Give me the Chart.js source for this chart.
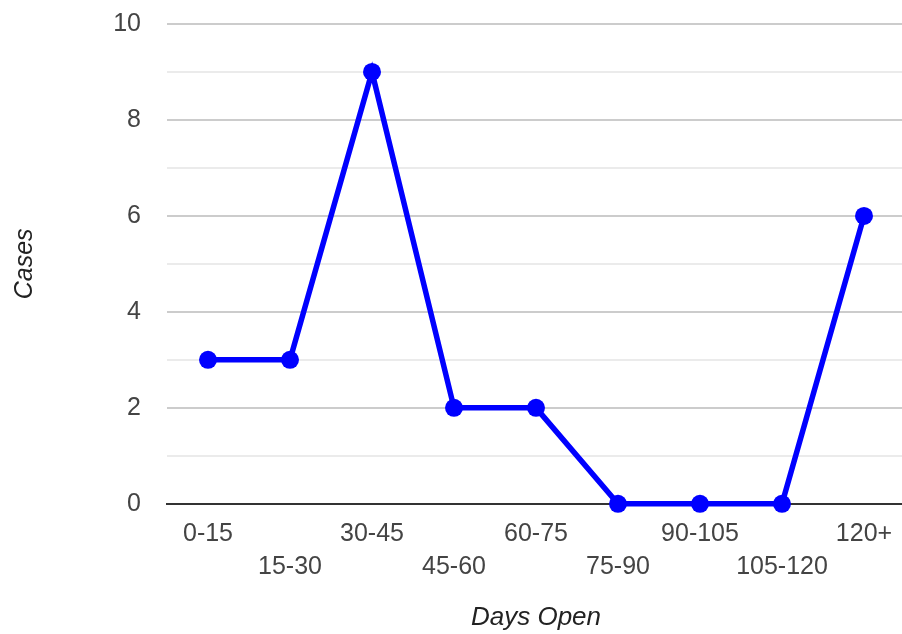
<!DOCTYPE html>
<html>
<head>
<meta charset="utf-8">
<script src="https://cdn.jsdelivr.net/npm/chart.js@4"></script>
<style>
  html, body { margin: 0; padding: 0; background: #fff; overflow: hidden; }
  #wrap { width: 914px; height: 634px; }
</style>
</head>
<body>
<div id="wrap"><canvas id="c" width="914" height="634"></canvas></div>
<script>
// Case counts grouped by how many days a case has been open
const categories = ['0-15', '15-30', '30-45', '45-60', '60-75', '75-90', '90-105', '105-120', '120+'];
const cases = [3, 3, 9, 2, 2, 0, 0, 0, 6];
const yTicks = [0, 2, 4, 6, 8, 10];

const FONT = '"Liberation Sans", Arial, sans-serif';

new Chart(document.getElementById('c'), {
  type: 'line',
  data: {
    labels: categories,
    datasets: [{
      data: cases,
      borderColor: '#0000ff',
      backgroundColor: '#0000ff',
      borderWidth: 5.5,
      pointRadius: 9,
      pointHoverRadius: 9,
      pointBorderWidth: 0,
      tension: 0,
      clip: false
    }]
  },
  options: {
    responsive: false,
    animation: false,
    events: [],
    layout: { padding: { top: 24, right: 0, bottom: 1, left: 10 } },
    plugins: { legend: { display: false }, tooltip: { enabled: false } },
    scales: {
      x: {
        offset: true,
        grid: { display: false, drawTicks: false },
        border: { display: true, color: '#333', width: 2 },
        ticks: {
          maxRotation: 0,
          autoSkip: false,
          padding: 14,
          color: '#444',
          font: { family: FONT, size: 25, lineHeight: 1.32 },
          callback: function (v, i) {
            const t = categories[i];
            return i % 2 === 0 ? [t, ''] : ['', t];
          }
        },
        title: {
          display: true,
          text: 'Days Open',
          color: '#222',
          font: { family: FONT, size: 26, style: 'italic' },
          padding: { top: 4, bottom: 0 }
        }
      },
      y: {
        min: 0,
        max: 10,
        afterFit: function (scale) {
          scale.width = 157;
          scale.paddingTop = 0;
          scale.paddingBottom = 0;
        },
        grid: {
          drawTicks: false,
          color: function (ctx) {
            const v = ctx.tick.value;
            if (v === 0) return 'rgba(0,0,0,0)';
            return yTicks.includes(v) ? '#cccccc' : '#ebebeb';
          },
          lineWidth: 2
        },
        border: { display: false },
        ticks: {
          stepSize: 1,
          padding: 26,
          color: '#444',
          font: { family: FONT, size: 25 },
          callback: function (v) { return yTicks.includes(v) ? String(v) : ''; }
        },
        title: {
          display: true,
          text: 'Cases',
          color: '#222',
          font: { family: FONT, size: 25, style: 'italic' },
          padding: { top: 0, bottom: 0 }
        }
      }
    }
  }
});
</script>
</body>
</html>
